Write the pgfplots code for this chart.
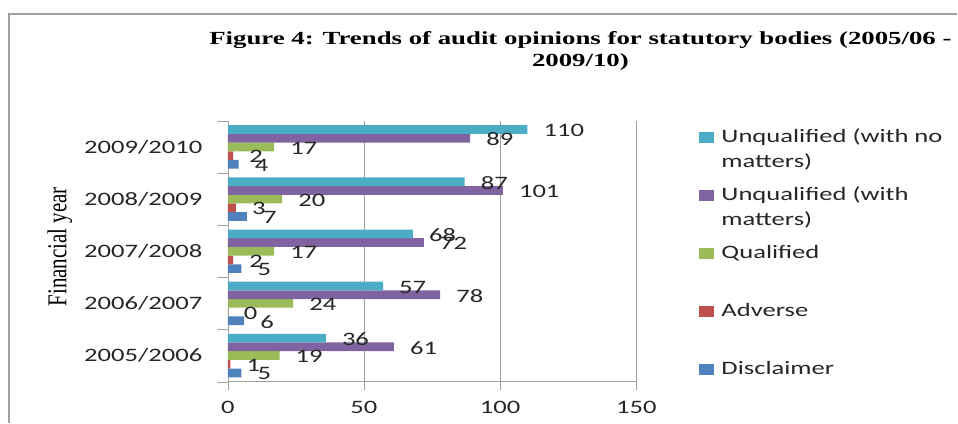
\documentclass[border=0pt]{standalone}
\usepackage{pgfplots}
\pgfplotsset{compat=1.18}
\usepackage{fontspec}
\setmainfont{Carlito}[FakeStretch=1.4]
\newfontfamily\titlefont{Liberation Serif}[FakeStretch=1.45]
\newfontfamily\labfont{Liberation Serif}

\definecolor{cNoM}{HTML}{4BACC6}
\definecolor{cWithM}{HTML}{8064A2}
\definecolor{cQual}{HTML}{9BBB59}
\definecolor{cAdv}{HTML}{C0504D}
\definecolor{cDisc}{HTML}{4F81BD}
\definecolor{axgray}{HTML}{A0A0A0}

\begin{document}
\begin{tikzpicture}[x=1pt,y=1pt]
\path (0,0) rectangle (958,423);
\draw[axgray, line width=2pt] (9,0) -- (9,409) -- (958,409);

% title
\node[anchor=base, inner sep=0pt, font=\titlefont\bfseries\fontsize{18.5}{22}\selectfont]
  at (581,378) {Figure 4: Trends of audit opinions for statutory bodies (2005/06 -};
\node[anchor=base, inner sep=0pt, font=\titlefont\bfseries\fontsize{18.5}{22}\selectfont]
  at (581,356) {2009/10)};

% y label
\node[inner sep=0pt] at (60,176)
  {\scalebox{1.3}[1]{\rotatebox{90}{\labfont\fontsize{21}{24}\selectfont Financial year}}};

\begin{axis}[
    at={(228pt,41pt)}, anchor=south west,
    scale only axis,
    width=409pt, height=261pt,
    xbar=0pt, bar width=8.7pt,
    xmin=0, xmax=150,
    ymin=-0.5, ymax=4.5,
    xtick={0,50,100,150},
    ytick={0,1,2,3,4},
    yticklabels={2005/2006,2006/2007,2007/2008,2008/2009,2009/2010},
    minor ytick={-0.5,0.5,1.5,2.5,3.5,4.5},
    tick align=outside,
    major tick length=8pt, minor tick length=10pt,
    ytick style={draw=none},
    minor y tick style={draw=axgray},
    x tick style={draw=axgray},
    xmajorgrids, grid style={axgray},
    axis x line*=bottom, axis y line*=left,
    axis line style={draw=axgray, -},
    /pgf/number format/assume math mode=true,
    ticklabel style={font=\fontsize{19}{22}\selectfont, text=black!85},
    yticklabel style={xshift=-14pt},
    xticklabel style={yshift=-8pt},
    nodes near coords,
    every node near coord/.append style={font=\fontsize{19}{22}\selectfont, text=black!85, inner sep=0pt, xshift=16pt, yshift=-1pt},
    clip=false,
]
\addplot[fill=cDisc, draw=none] coordinates {(5,0) (6,1) (5,2) (7,3) (4,4)};
\addplot[fill=cAdv, draw=none] coordinates {(1,0) (0,1) (2,2) (3,3) (2,4)};
\addplot[fill=cQual, draw=none] coordinates {(19,0) (24,1) (17,2) (20,3) (17,4)};
\addplot[fill=cWithM, draw=none] coordinates {(61,0) (78,1) (72,2) (101,3) (89,4)};
\addplot[fill=cNoM, draw=none] coordinates {(36,0) (57,1) (68,2) (87,3) (110,4)};
\end{axis}

% legend
\begin{scope}[every node/.style={anchor=base west, inner sep=0pt, font=\fontsize{19}{22}\selectfont, text=black!85}]
\fill[cNoM]   (700,280) rectangle (715,291);
\node at (722,280) {Unqualified (with no};
\node at (722,255) {matters)};
\fill[cWithM] (700,222) rectangle (715,233);
\node at (722,222) {Unqualified (with};
\node at (722,197) {matters)};
\fill[cQual]  (700,164) rectangle (715,175);
\node at (722,164) {Qualified};
\fill[cAdv]   (700,106) rectangle (715,117);
\node at (722,106) {Adverse};
\fill[cDisc]  (700,48) rectangle (715,59);
\node at (722,48) {Disclaimer};
\end{scope}
\end{tikzpicture}
\end{document}
